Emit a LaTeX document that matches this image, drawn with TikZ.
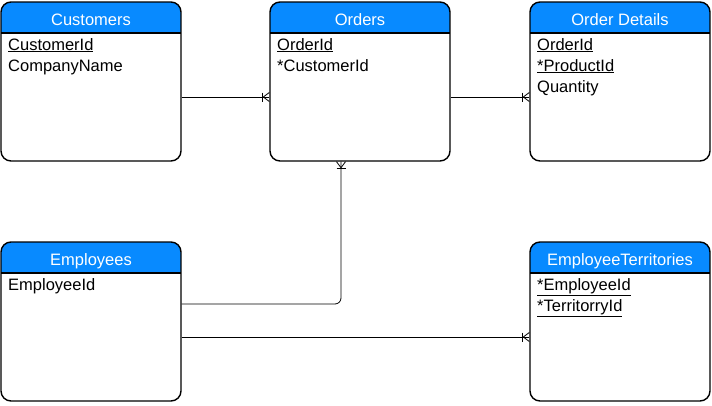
\documentclass[tikz,border=0pt]{standalone}
\usepackage{fontspec}
\setmainfont{Liberation Sans}
\definecolor{hdrblue}{RGB}{8,138,255}
\tikzset{
  box/.style={draw=black, line width=1.4pt, rounded corners=10pt, minimum width=180pt, minimum height=159pt, inner sep=0pt},
  hdrtxt/.style={anchor=base, text=white, inner sep=0pt, font=\fontsize{16.5}{20}\selectfont},
  rowtxt/.style={anchor=base west, inner sep=0pt, font=\fontsize{16.5}{20}\selectfont},
  conn/.style={draw=black, line width=0.8pt},
  crow/.pic={\draw[line width=0.8pt] (-7,-4.5)--(-7,4.5); \draw[line width=0.8pt] (0,-4.5)--(-6,0)--(0,4.5);}
}
\newcommand\entity[4]{%
  \begin{scope}
    \clip[rounded corners=10pt] (#2,#3) rectangle ++(180,159);
    \fill[hdrblue] (#2,#3) rectangle ++(180,31);
  \end{scope}
  \draw[line width=1.4pt] (#2,#3+31) -- ++(180,0);
  \node[box] (#1) at (#2+90,#3+79.5) {};
  \node[hdrtxt] (#1-t) at (#2+90,#3+23) {#4};
}
\begin{document}
\begin{tikzpicture}[x=1pt,y=-1pt]
\fill[white] (0,0) rectangle (712,405);
\useasboundingbox (0,0) rectangle (712,405);

\entity{cust}{1}{2}{Customers}
\node[rowtxt] (cust-1) at (8,50) {\underline{CustomerId}};
\node[rowtxt] (cust-2) at (8,71) {CompanyName};

\entity{ord}{270}{2}{Orders}
\node[rowtxt] (ord-1) at (277,50) {\underline{OrderId}};
\node[rowtxt] (ord-2) at (277,71) {*CustomerId};

\entity{det}{530}{2}{Order Details}
\node[rowtxt] (det-1) at (537,50) {\underline{OrderId}};
\node[rowtxt] (det-2) at (537,71) {\underline{*ProductId}};
\node[rowtxt] (det-3) at (537,92) {Quantity};

\entity{emp}{1}{242}{Employees}
\node[rowtxt] (emp-1) at (8,290) {EmployeeId};

\entity{et}{530}{242}{EmployeeTerritories}
\node[rowtxt] (et-1) at (537,290) {\underline{*EmployeeId}};
\node[rowtxt] (et-2) at (537,311) {\underline{*TerritorryId}};

% connectors
\coordinate (a1) at ([yshift=-15.5pt]cust.east);
\coordinate (a2) at ([yshift=-15.5pt]ord.west);
\draw[conn] (a1) -- (a2);
\pic at (a2) {crow};

\coordinate (b1) at ([yshift=-15.5pt]ord.east);
\coordinate (b2) at ([yshift=-15.5pt]det.west);
\draw[conn] (b1) -- (b2);
\pic at (b2) {crow};

\coordinate (c1) at ([yshift=17.5pt]emp.east);
\coordinate (c2) at ([xshift=-19pt]ord.south);
\draw[conn, rounded corners=6pt] (c1) -| (c2);
\pic[rotate=90] at (c2) {crow};

\coordinate (d1) at ([yshift=-15.5pt]emp.east);
\coordinate (d2) at ([yshift=-15.5pt]et.west);
\draw[conn] (d1) -- (d2);
\pic at (d2) {crow};
\end{tikzpicture}
\end{document}
